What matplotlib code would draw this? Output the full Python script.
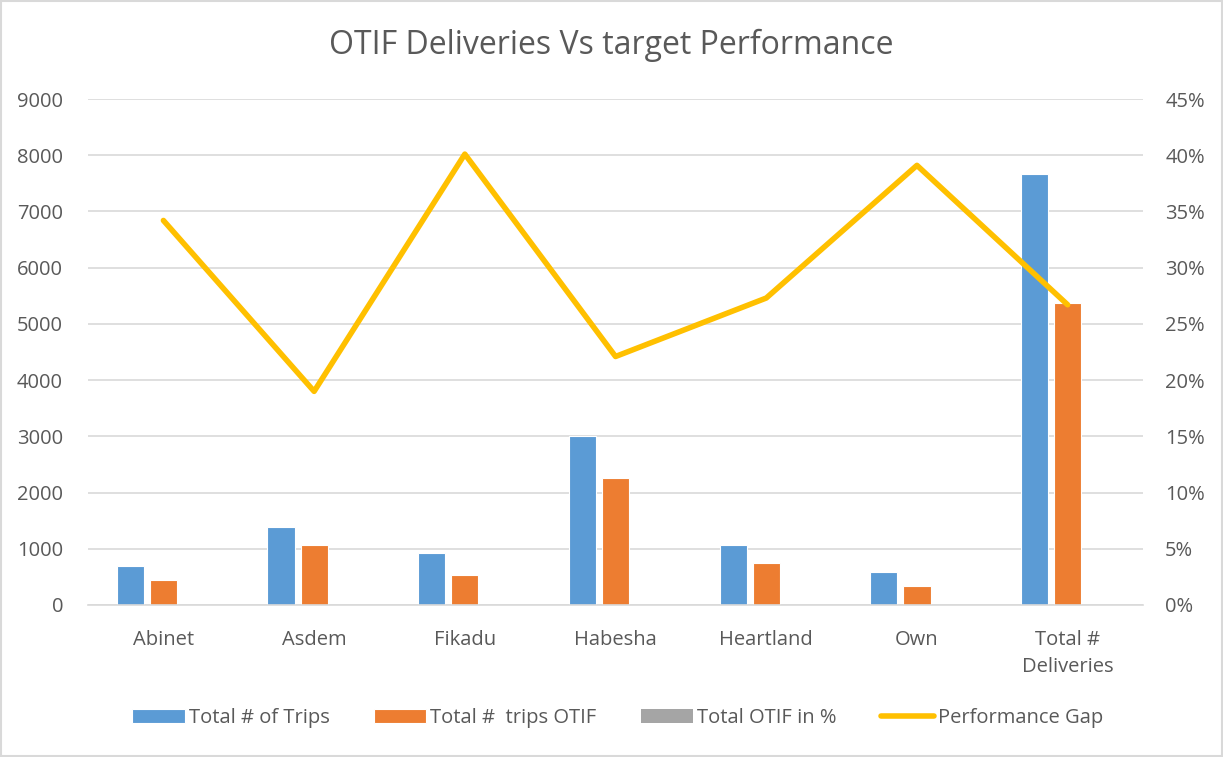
import numpy as np
import matplotlib
matplotlib.use("Agg")
import matplotlib.pyplot as plt
from matplotlib.ticker import FuncFormatter

plt.rcParams['font.family'] = ['Open Sans', 'DejaVu Sans']

categories = ["Abinet", "Asdem", "Fikadu", "Habesha", "Heartland", "Own", "Total #\nDeliveries"]
total_trips = [700, 1380, 920, 3010, 1070, 580, 7660]
trips_otif = [445, 1075, 525, 2260, 745, 340, 5380]
otif_pct = [0.64, 0.78, 0.57, 0.75, 0.70, 0.59, 0.70]
perf_gap = [0.342, 0.190, 0.401, 0.221, 0.273, 0.391, 0.267]

blue = "#5B9BD5"
orange = "#ED7D31"
gray = "#A5A5A5"
yellow = "#FFC000"
text_c = "#595959"
grid_c = "#D9D9D9"

fig = plt.figure(figsize=(12.23, 7.57), dpi=100)
ax = fig.add_axes([0.072, 0.2008, 0.8626, 0.6684])
ax2 = ax.twinx()

x = np.arange(len(categories))
w = 0.18
ax.bar(x - 0.22, total_trips, w, color=blue, edgecolor="white", linewidth=0.8, label="Total # of Trips", zorder=2)
ax.bar(x, trips_otif, w, color=orange, edgecolor="white", linewidth=0.8, label="Total #  trips OTIF", zorder=2)
ax.bar(x + 0.22, otif_pct, w, color=gray, label="Total OTIF in %", zorder=2)
ax2.plot(x, perf_gap, color=yellow, linewidth=4, label="Performance Gap", solid_capstyle="round")

ax.set_xlim(-0.5, len(categories) - 0.5)
ax.set_ylim(0, 9000)
ax.set_yticks(range(0, 9001, 1000))
ax2.set_ylim(0, 0.45)
ax2.set_yticks(np.arange(0, 0.451, 0.05))
ax2.yaxis.set_major_formatter(FuncFormatter(lambda v, p: f"{v*100:.0f}%"))

ax.set_xticks(x)
ax.set_xticklabels(categories, linespacing=1.45)
ax.yaxis.grid(True, color=grid_c, linewidth=1.2, zorder=0)
ax.set_axisbelow(True)

for a in (ax, ax2):
    for s in a.spines.values():
        s.set_visible(False)
    a.tick_params(length=0, labelsize=14.5, colors=text_c, pad=10)
ax.spines["bottom"].set_visible(True)
ax.spines["bottom"].set_color(grid_c)
ax.spines["bottom"].set_linewidth(1.2)
ax.tick_params(axis="x", pad=18)
ax.tick_params(axis="y", pad=18)
ax2.tick_params(pad=16)

fig.text(0.5, 0.94, "OTIF Deliveries Vs target Performance", ha="center", va="center",
         fontsize=23, color=text_c)

h1, l1 = ax.get_legend_handles_labels()
h2, l2 = ax2.get_legend_handles_labels()
fig.legend(h1 + h2, l1 + l2, loc="center", bbox_to_anchor=(0.505, 0.052), ncol=4, frameon=False,
           fontsize=14.5, labelcolor=text_c, handlelength=2.6, handletextpad=0.2, columnspacing=2.2)

fig.patches.append(plt.Rectangle((0.001, 0.001), 0.998, 0.998, transform=fig.transFigure,
                                 fill=False, edgecolor=grid_c, linewidth=1.5))

fig.savefig("out.png", dpi=100)
